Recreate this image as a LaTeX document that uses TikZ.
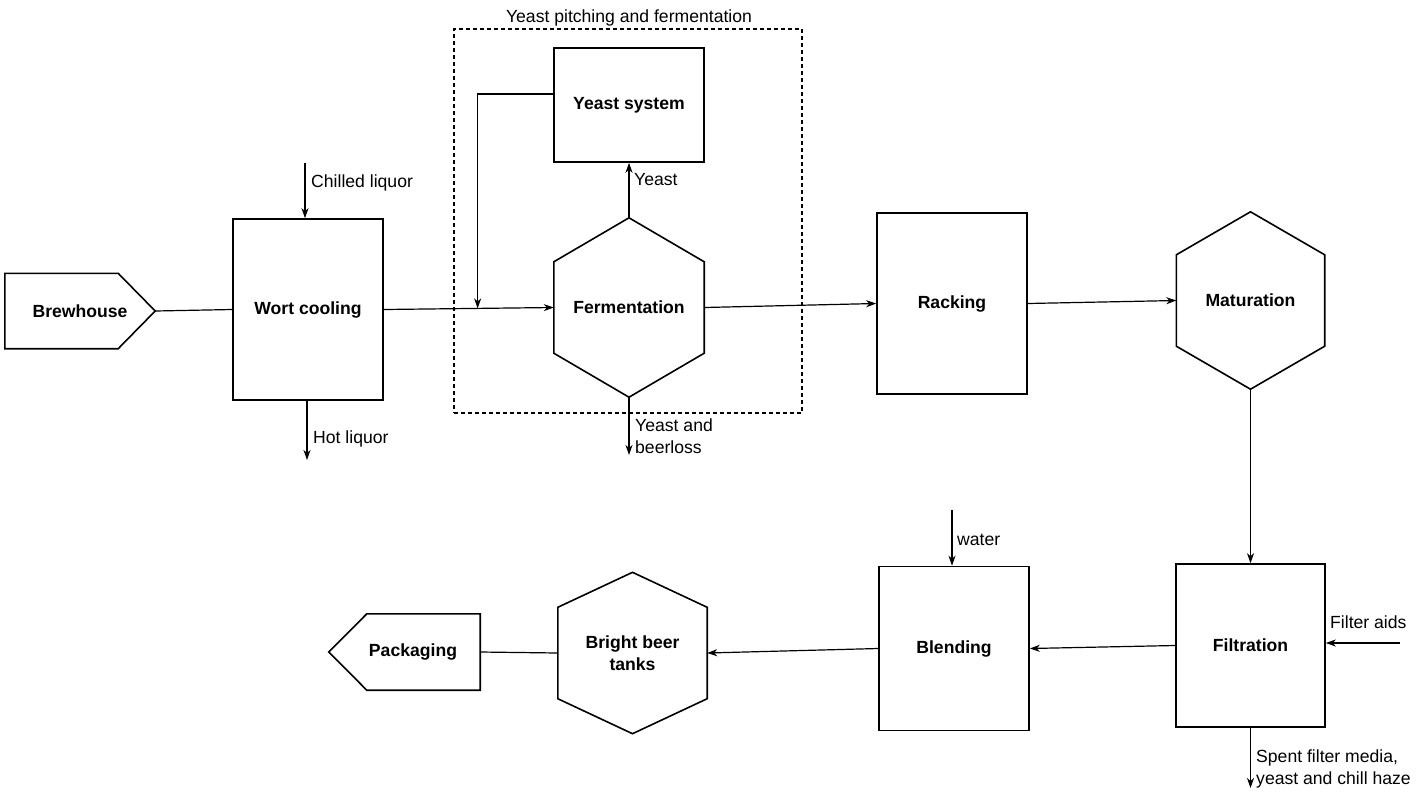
\documentclass[tikz,border=0pt]{standalone}
\usepackage{fontspec}
\setmainfont{Liberation Sans}
\usetikzlibrary{arrows.meta,calc}
\newcommand\hexborder[2]{\draw[border] (#1.north) -- ([yshift=-#2pt]#1.north east) -- ([yshift=#2pt]#1.south east) -- (#1.south) -- ([yshift=#2pt]#1.south west) -- ([yshift=-#2pt]#1.north west) -- cycle;}
\begin{document}
\begin{tikzpicture}[x=1pt,y=-1pt,
  font=\fontsize{17.6}{22}\selectfont,
  border/.style={line width=1.6pt, line join=miter},
  box/.style={draw, border, rectangle, inner sep=0pt, font=\fontsize{17.6}{22}\selectfont\bfseries, align=center},
  hexnode/.style={rectangle, inner sep=0pt, font=\fontsize{17.6}{22}\selectfont\bfseries, align=center},
  tagnode/.style={rectangle, inner sep=0pt, font=\fontsize{17.6}{22}\selectfont\bfseries},
  flow/.style={line width=1.2pt, -{Stealth[length=10pt,width=7pt,inset=3pt]}},
  plainline/.style={line width=1.2pt},
  lbl/.style={inner sep=0pt, anchor=west, align=left},
  groupbox/.style={draw, line width=1.1pt, dash pattern=on 4pt off 3pt, rectangle, inner sep=0pt},
]
\useasboundingbox (0,0) rectangle (1424,793);

% process nodes
\node[tagnode, minimum width=150pt, minimum height=75pt] (brew) at (80,311) {Brewhouse\hspace{18pt}};
\draw[border] (brew.north west) -- ([xshift=-37pt]brew.north east) -- (brew.east) -- ([xshift=-37pt]brew.south east) -- (brew.south west) -- cycle;

\node[box, minimum width=150pt, minimum height=181pt] (wort) at (308,309.5) {Wort cooling};
\node[box, minimum width=150pt, minimum height=114pt] (ysys) at (629,105) {Yeast system};
\node[hexnode, minimum width=150pt, minimum height=179pt] (ferm) at (629,307.5) {Fermentation};
\hexborder{ferm}{44}
\node[box, minimum width=150pt, minimum height=181pt] (rack) at (952,303.5) {Racking};
\node[hexnode, minimum width=148pt, minimum height=177pt] (mat) at (1250.5,300.5) {Maturation};
\hexborder{mat}{43}
\node[box, minimum width=149pt, minimum height=163pt] (filt) at (1250.5,645.5) {Filtration};
\node[box, minimum width=150pt, minimum height=164pt] (blend) at (954,648.5) {Blending};
\node[hexnode, minimum width=149pt, minimum height=161pt] (bbt) at (632.5,653) {Bright beer\\tanks};
\hexborder{bbt}{35}
\node[tagnode, minimum width=151pt, minimum height=76pt] (pack) at (404.5,652) {\hspace{17pt}Packaging};
\draw[border] (pack.north east) -- ([xshift=38pt]pack.north west) -- (pack.west) -- ([xshift=38pt]pack.south west) -- (pack.south east) -- cycle;

% group
\node[groupbox, minimum width=348pt, minimum height=384pt] (grp) at (628,221) {};
\node[inner sep=0pt] (grplbl) at (629,18) {Yeast pitching and fermentation};

% free ends
\coordinate (chl) at (305,163);
\coordinate (hot) at (307,460);
\coordinate (yout) at (629,455);
\coordinate (faid) at (1400,643);
\coordinate (spent) at (1250.5,788);
\coordinate (wtr) at (952,510);

% connectors
\draw[plainline] (brew.east) -- (wort.west);
\draw[flow] (chl) -- (chl |- wort.north);
\draw[flow] (hot |- wort.south) -- (hot);
\draw[flow] (wort.east) -- (ferm.west);
\coordinate (join) at ($(wort.east)!0.552!(ferm.west)$);
\draw[flow] ([yshift=11pt]ysys.west) -| (join);
\draw[flow] (ferm.north) -- (ysys.south);
\draw[flow] (ferm.south) -- (yout);
\draw[flow] (ferm.east) -- (rack.west);
\draw[flow] (rack.east) -- (mat.west);
\draw[flow] (mat.south) -- (filt.north);
\draw[flow] (faid) -- (faid -| filt.east);
\draw[flow] (filt.south) -- (spent);
\draw[flow] (filt.west) -- (blend.east);
\draw[flow] (wtr) -- (wtr |- blend.north);
\draw[flow] (blend.west) -- (bbt.east);
\draw[plainline] (bbt.west) -- (pack.east);

% labels
\node[lbl] (lchl) at (311,183) {Chilled liquor};
\node[lbl] (lhot) at (313,439) {Hot liquor};
\node[lbl] (lyeast) at (634,180) {Yeast};
\node[lbl] (lyout) at (635,436.5) {Yeast and\\beerloss};
\node[lbl] (lfaid) at (1330,622) {Filter aids};
\node[lbl] (lspent) at (1256,769) {Spent filter media,\\yeast and chill haze};
\node[lbl] (lwtr) at (957,540) {water};
\end{tikzpicture}
\end{document}
